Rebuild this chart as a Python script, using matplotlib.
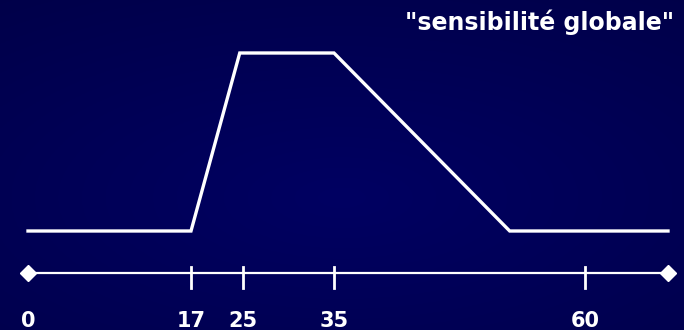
import numpy as np
import matplotlib
matplotlib.use("Agg")
import matplotlib.pyplot as plt

# schematic curve: ages and relative level
ages = [0, 17, 24.5, 35, 52.5, 70]
level = [0, 0, 1, 1, 0, 0]
tick_ages = [17, 25, 35, 60]
label_ages = [0, 17, 25, 35, 60]
title = '"sensibilité globale"'

# the drawn axis is not linear: knots of age -> fraction of axis length
knot_ages = np.array([0, 17, 25, 35, 60, 70])
knot_frac = (np.array([28, 191, 243, 334, 585, 668]) - 28) / 640.0


def forward(x):
    return np.interp(x, knot_ages, knot_frac)


def inverse(f):
    return np.interp(f, knot_frac, knot_ages)


W, H = 684, 330
fig = plt.figure(figsize=(W / 100, H / 100), dpi=100)

# background gradient
bg = fig.add_axes([0, 0, 1, 1])
yy, xx = np.mgrid[0:1:200j, 0:1:400j]
r = np.sqrt(((xx - 0.5) / 0.9) ** 2 + ((yy - 0.6) / 0.8) ** 2)
t = np.clip(1 - r, 0, 1)
img = np.zeros((200, 400, 3))
img[..., 2] = (72 + 26 * t) / 255.0
bg.imshow(img, aspect="auto", extent=[0, 1, 0, 1], origin="upper")
bg.axis("off")

ax = fig.add_axes([28 / W, 0, 640 / W, 1])
ax.set_xscale("function", functions=(forward, inverse))
ax.set_xlim(0, 70)
# level 0 at y=231px, level 1 at y=53px
ax.set_ylim(-(H - 231) / 178.0, 1 + 53 / 178.0)
ax.patch.set_alpha(0)
ax.axis("off")

ax.plot(ages, level, color="white", lw=2.4, solid_joinstyle="miter", clip_on=False)

y_axis = -(273 - 231) / 178.0
ax.plot([0, 70], [y_axis, y_axis], color="white", lw=1.6, clip_on=False)
ax.plot([0, 70], [y_axis, y_axis], ls="none", marker="D", ms=8, color="white",
        clip_on=False)
for a in tick_ages:
    ax.plot([a, a], [y_axis + 6 / 178.0, y_axis - 15 / 178.0], color="white",
            lw=2.0, clip_on=False)
for a in label_ages:
    ax.text(a, -(321 - 231) / 178.0, str(a), color="white", fontsize=15,
            fontweight="bold", ha="center", va="center", clip_on=False)

fig.text(674 / W, 1 - 22 / H, title, color="white", fontsize=17,
         fontweight="bold", ha="right", va="center")

fig.savefig("out.png", dpi=100, facecolor="#000050")
